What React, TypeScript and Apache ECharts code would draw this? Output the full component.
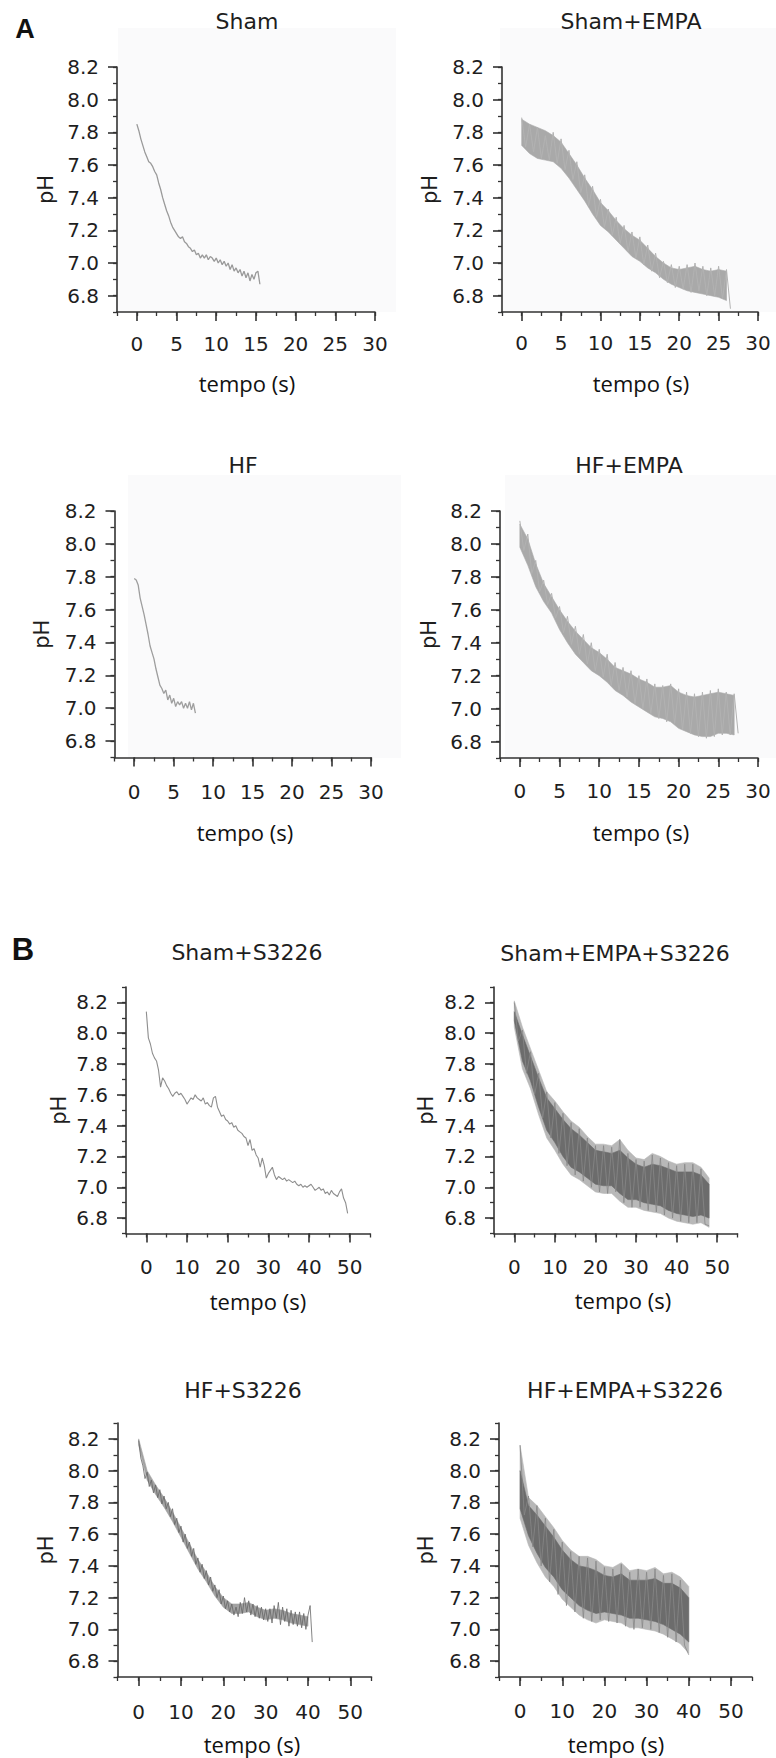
import { useEffect, useRef } from "react";
import * as echarts from "echarts";

// ---------------- texts ----------------
const panelTitles = ["Sham", "Sham+EMPA", "HF", "HF+EMPA", "Sham+S3226", "Sham+EMPA+S3226", "HF+S3226", "HF+EMPA+S3226"];
const sectionLabels = ["A", "B"];
const yAxisName = "pH";
const xAxisName = "tempo (s)";

// ---------------- axes ----------------
const yTickValues = [6.8, 7.0, 7.2, 7.4, 7.6, 7.8, 8.0, 8.2];
const xTickValuesA = [0, 5, 10, 15, 20, 25, 30];
const xTickValuesB = [0, 10, 20, 30, 40, 50];
const yRangeA = [6.7, 8.2];
const yRangeB = [6.7, 8.3];
const xRangeA = [-2.5, 30];
const xRangeB = [-5, 55];
const yMinorStep = 0.1;
const xMinorStepA = 2.5;
const xMinorStepB = 5;

// ---------------- traces (pH values sampled every `step` seconds from t = 0) ----------------
const shamStep = 0.25;
const shamPH = [
  7.85, 7.81, 7.76, 7.72, 7.68, 7.65, 7.62, 7.61, 7.59, 7.56, 7.54, 7.49, 7.45, 7.40, 7.36, 7.32,
  7.29, 7.25, 7.22, 7.20, 7.18, 7.16, 7.15, 7.16, 7.13, 7.12, 7.10, 7.09, 7.07, 7.08, 7.05, 7.06,
  7.03, 7.05, 7.03, 7.05, 7.02, 7.04, 7.03, 7.01, 7.03, 7.00, 7.02, 6.99, 7.01, 6.98, 7.00, 6.96,
  6.99, 6.95, 6.97, 6.94, 6.96, 6.92, 6.95, 6.91, 6.94, 6.89, 6.93, 6.90, 6.94, 6.95, 6.87,
];

const hfStep = 0.25;
const hfPH = [
  7.79, 7.78, 7.75, 7.67, 7.62, 7.57, 7.51, 7.45, 7.38, 7.34, 7.30, 7.24, 7.19, 7.14, 7.12, 7.09,
  7.11, 7.05, 7.08, 7.03, 7.06, 7.01, 7.04, 7.02, 7.04, 7.00, 7.03, 7.00, 7.04, 6.99, 7.03, 6.97,
];

const shamEmpaBandStep = 1;
const shamEmpaUpper = [
  7.88, 7.85, 7.83, 7.81, 7.78, 7.74, 7.67, 7.60, 7.52, 7.45, 7.37, 7.32, 7.26, 7.21,
  7.17, 7.14, 7.09, 7.04, 7.00, 6.97, 6.96, 6.97, 6.98, 6.96, 6.95, 6.96, 6.95,
];
const shamEmpaLower = [
  7.72, 7.67, 7.64, 7.63, 7.62, 7.58, 7.52, 7.45, 7.38, 7.30, 7.23, 7.19, 7.14, 7.09,
  7.04, 7.01, 6.97, 6.94, 6.90, 6.87, 6.85, 6.83, 6.82, 6.81, 6.80, 6.79, 6.77,
];
const shamEmpaStep = 0.5;
const shamEmpaPH = [
  7.89, 7.71, 7.85, 7.68, 7.83, 7.64, 7.78, 7.63, 7.80, 7.61,
  7.76, 7.57, 7.69, 7.51, 7.62, 7.43, 7.54, 7.35, 7.47, 7.28,
  7.39, 7.22, 7.33, 7.17, 7.28, 7.12, 7.23, 7.07, 7.19, 7.03,
  7.16, 6.99, 7.11, 6.95, 7.06, 6.91, 7.01, 6.88, 6.99, 6.85,
  6.98, 6.84, 6.99, 6.82, 7.00, 6.83, 6.98, 6.80, 6.97, 6.80,
  6.98, 6.78, 6.96, 6.72,
];

const hfEmpaBandStep = 1;
const hfEmpaUpper = [
  8.12, 8.03, 7.88, 7.76, 7.68, 7.60, 7.53, 7.47, 7.42, 7.37, 7.34, 7.30, 7.25, 7.23,
  7.21, 7.18, 7.16, 7.13, 7.13, 7.14, 7.10, 7.08, 7.07, 7.08, 7.09, 7.10, 7.09, 7.08,
];
const hfEmpaLower = [
  7.98, 7.87, 7.74, 7.65, 7.58, 7.48, 7.40, 7.33, 7.28, 7.23, 7.20, 7.16, 7.11, 7.08,
  7.04, 7.01, 6.98, 6.95, 6.94, 6.92, 6.88, 6.86, 6.84, 6.83, 6.83, 6.85, 6.85, 6.84,
];
const hfEmpaStep = 0.5;
const hfEmpaPH = [
  8.14, 7.96, 8.06, 7.82, 7.90, 7.71, 7.78, 7.63, 7.70, 7.55,
  7.62, 7.46, 7.56, 7.39, 7.50, 7.33, 7.45, 7.27, 7.40, 7.23,
  7.36, 7.19, 7.33, 7.14, 7.28, 7.11, 7.25, 7.07, 7.23, 7.03,
  7.20, 7.00, 7.18, 6.97, 7.15, 6.94, 7.14, 6.92, 7.15, 6.91,
  7.12, 6.87, 7.10, 6.85, 7.09, 6.83, 7.10, 6.82, 7.11, 6.83,
  7.12, 6.84, 7.10, 6.84, 7.09, 6.85,
];

const shamS3226Step = 0.5;
const shamS3226PH = [
  8.14, 7.97, 7.93, 7.87, 7.84, 7.82, 7.76, 7.65, 7.71, 7.69,
  7.66, 7.64, 7.61, 7.59, 7.61, 7.62, 7.60, 7.61, 7.59, 7.57,
  7.54, 7.56, 7.58, 7.57, 7.60, 7.58, 7.57, 7.56, 7.58, 7.54,
  7.55, 7.53, 7.52, 7.58, 7.59, 7.52, 7.49, 7.46, 7.47, 7.44,
  7.43, 7.41, 7.42, 7.39, 7.40, 7.37, 7.36, 7.35, 7.33, 7.32,
  7.27, 7.31, 7.24, 7.25, 7.21, 7.19, 7.13, 7.19, 7.14, 7.06,
  7.09, 7.11, 7.13, 7.08, 7.05, 7.07, 7.06, 7.05, 7.06, 7.04,
  7.05, 7.04, 7.03, 7.04, 7.02, 7.01, 7.02, 7.00, 7.01, 7.00,
  7.01, 7.02, 7.00, 6.98, 6.99, 7.00, 6.98, 6.99, 6.96, 6.97,
  6.95, 6.98, 6.96, 6.95, 6.94, 6.97, 6.99, 6.93, 6.90, 6.83,
];

const shamEmpaS3226BandStep = 2;
const shamEmpaS3226OuterUpper = [
  8.21, 8.04, 7.90, 7.76, 7.62, 7.56, 7.49, 7.43, 7.39, 7.33, 7.28, 7.28, 7.27,
  7.31, 7.24, 7.19, 7.18, 7.22, 7.20, 7.17, 7.15, 7.16, 7.16, 7.13, 7.06,
];
const shamEmpaS3226OuterLower = [
  8.04, 7.77, 7.64, 7.47, 7.32, 7.24, 7.15, 7.08, 7.05, 7.01, 6.97, 6.96, 6.96,
  6.91, 6.87, 6.87, 6.85, 6.84, 6.83, 6.80, 6.78, 6.77, 6.76, 6.77, 6.74,
];
const shamEmpaS3226InnerUpper = [
  8.14, 7.99, 7.85, 7.71, 7.58, 7.51, 7.44, 7.38, 7.34, 7.29, 7.24, 7.23, 7.22,
  7.24, 7.19, 7.15, 7.13, 7.15, 7.14, 7.12, 7.10, 7.10, 7.10, 7.08, 7.02,
];
const shamEmpaS3226InnerLower = [
  8.08, 7.82, 7.69, 7.52, 7.37, 7.29, 7.20, 7.13, 7.10, 7.06, 7.02, 7.01, 7.01,
  6.96, 6.92, 6.92, 6.90, 6.89, 6.88, 6.85, 6.83, 6.82, 6.81, 6.82, 6.80,
];
const shamEmpaS3226Step = 1;
const shamEmpaS3226PH = [
  8.20, 7.95, 8.02, 7.74, 7.88, 7.60, 7.74, 7.45, 7.62, 7.32,
  7.55, 7.22, 7.48, 7.14, 7.42, 7.08, 7.38, 7.04, 7.32, 7.00,
  7.27, 6.97, 7.27, 6.96, 7.26, 6.97, 7.31, 6.90, 7.22, 6.87,
  7.18, 6.87, 7.17, 6.85, 7.21, 6.84, 7.19, 6.82, 7.16, 6.80,
  7.14, 6.78, 7.15, 6.77, 7.15, 6.77, 7.12, 6.76, 6.75,
];

const hfS3226BandStep = 2;
const hfS3226Upper = [
  8.20, 8.00, 7.91, 7.83, 7.74, 7.64, 7.54, 7.44, 7.36, 7.27, 7.20,
  7.16, 7.16, 7.17, 7.14, 7.12, 7.13, 7.12, 7.10, 7.09, 7.08,
];
const hfS3226Lower = [
  8.16, 7.94, 7.85, 7.77, 7.68, 7.58, 7.48, 7.38, 7.30, 7.21, 7.14,
  7.10, 7.10, 7.11, 7.08, 7.06, 7.07, 7.06, 7.04, 7.03, 7.02,
];
const hfS3226Step = 0.5;
const hfS3226PH = [
  8.19, 8.08, 8.03, 7.95, 7.99, 7.90, 7.94, 7.86, 7.91, 7.83,
  7.88, 7.79, 7.84, 7.76, 7.80, 7.71, 7.76, 7.66, 7.70, 7.61,
  7.65, 7.55, 7.60, 7.51, 7.55, 7.46, 7.51, 7.41, 7.45, 7.36,
  7.41, 7.32, 7.37, 7.28, 7.33, 7.24, 7.28, 7.20, 7.25, 7.16,
  7.21, 7.13, 7.18, 7.11, 7.16, 7.09, 7.14, 7.08, 7.17, 7.10,
  7.20, 7.11, 7.18, 7.09, 7.16, 7.08, 7.15, 7.07, 7.14, 7.06,
  7.13, 7.05, 7.13, 7.04, 7.15, 7.07, 7.17, 7.03, 7.14, 7.05,
  7.13, 7.02, 7.12, 7.03, 7.11, 7.02, 7.11, 7.01, 7.10, 7.00,
  7.09, 7.15, 6.92,
];

const hfEmpaS3226BandStep = 2;
const hfEmpaS3226OuterUpper = [
  8.16, 7.83, 7.78, 7.71, 7.64, 7.56, 7.50, 7.46, 7.46, 7.44, 7.40,
  7.39, 7.42, 7.37, 7.38, 7.37, 7.39, 7.35, 7.36, 7.33, 7.27,
];
const hfEmpaS3226OuterLower = [
  7.70, 7.53, 7.42, 7.33, 7.27, 7.19, 7.14, 7.09, 7.06, 7.04, 7.06,
  7.05, 7.04, 7.01, 7.01, 7.00, 6.99, 6.97, 6.94, 6.91, 6.85,
];
const hfEmpaS3226InnerUpper = [
  8.00, 7.78, 7.72, 7.65, 7.58, 7.50, 7.44, 7.40, 7.39, 7.37, 7.34,
  7.33, 7.35, 7.31, 7.31, 7.31, 7.32, 7.29, 7.29, 7.26, 7.20,
];
const hfEmpaS3226InnerLower = [
  7.76, 7.59, 7.48, 7.39, 7.33, 7.25, 7.20, 7.15, 7.12, 7.10, 7.11,
  7.10, 7.09, 7.07, 7.07, 7.06, 7.05, 7.03, 7.00, 6.97, 6.92,
];
const hfEmpaS3226Step = 1;
const hfEmpaS3226PH = [
  8.16, 7.72, 7.84, 7.52, 7.78, 7.40, 7.70, 7.30, 7.63, 7.22,
  7.55, 7.15, 7.49, 7.11, 7.46, 7.07, 7.45, 7.05, 7.43, 7.06,
  7.39, 7.05, 7.38, 7.04, 7.41, 7.02, 7.36, 7.00, 7.38, 7.01,
  7.36, 7.00, 7.38, 6.98, 7.34, 6.95, 7.35, 6.92, 7.31, 6.90,
  6.84,
];

// ---------------- layout (pixels) ----------------
type Layout = {
  kind: "A" | "B";
  left: number; top: number; width: number; height: number;
  titleX: number; titleY: number; nameX: number; nameY: number;
  pHGap: number; xMargin: number;
};
const layouts: Layout[] = [
  { kind: "A", left: 117, top: 67, width: 258, height: 245, titleX: 247, titleY: 21, nameX: 247, nameY: 383, pHGap: 61, xMargin: 22 },
  { kind: "A", left: 502, top: 67, width: 256, height: 245, titleX: 631, titleY: 21, nameX: 641, nameY: 383, pHGap: 62, xMargin: 21 },
  { kind: "A", left: 114.5, top: 511, width: 256.5, height: 246.5, titleX: 243, titleY: 465, nameX: 245, nameY: 832, pHGap: 62, xMargin: 24 },
  { kind: "A", left: 500, top: 511, width: 258, height: 247, titleX: 629, titleY: 465, nameX: 641, nameY: 832, pHGap: 61, xMargin: 23 },
  { kind: "B", left: 126, top: 987, width: 244, height: 246.5, titleX: 247, titleY: 952, nameX: 258, nameY: 1301, pHGap: 57, xMargin: 23 },
  { kind: "B", left: 494, top: 987, width: 243.5, height: 246.5, titleX: 615, titleY: 953, nameX: 623, nameY: 1300, pHGap: 58, xMargin: 23 },
  { kind: "B", left: 117.5, top: 1423, width: 254, height: 254, titleX: 243, titleY: 1390, nameX: 252, nameY: 1744, pHGap: 61, xMargin: 25 },
  { kind: "B", left: 499, top: 1423, width: 253, height: 254, titleX: 625, titleY: 1390, nameX: 616, nameY: 1744, pHGap: 63, xMargin: 24 },
];
const sectionPos = [
  { x: 25, y: 29, size: 27 },
  { x: 23, y: 949, size: 31 },
];
const bgBoxes = [
  { x: 118, y: 28, w: 278, h: 284 },
  { x: 500, y: 28, w: 276, h: 284 },
  { x: 128, y: 475, w: 273, h: 283 },
  { x: 505, y: 475, w: 271, h: 283 },
];

const AXIS = "#333333";
const TEXT = "#1e1e1e";
const LABEL_FONT = "'DejaVu Sans', 'Liberation Sans', Arial, sans-serif";
const BOLD_FONT = "'Liberation Sans', Arial, sans-serif";
const NAME_FONT = "'Open Sans', 'Noto Sans', sans-serif";

const tOf = (i: number, step: number) => Math.round(i * step * 1000) / 1000;
const toPairs = (vals: number[], step: number) => vals.map((v, i) => [tOf(i, step), v]);

function trace(p: number, vals: number[], step: number, color: string, width: number, z: number) {
  return {
    type: "line", xAxisIndex: p * 2, yAxisIndex: p * 2, data: toPairs(vals, step),
    symbol: "none", showSymbol: false, silent: true, z,
    lineStyle: { color, width },
  };
}

// filled band between a lower and an upper envelope, drawn through the axes' scales
function band(p: number, lower: number[], upper: number[], step: number, color: string, z: number) {
  const data = lower.map((lo, i) => [tOf(i, step), lo, upper[i]]);
  return {
    type: "custom", xAxisIndex: p * 2, yAxisIndex: p * 2, silent: true, z, clip: true,
    data,
    encode: { x: 0, y: [1, 2] },
    renderItem: (params: any, api: any) => {
      if (params.dataIndex !== 0) return null;
      const top = data.map((d) => api.coord([d[0], d[2]]));
      const bottom = data.map((d) => api.coord([d[0], d[1]])).reverse();
      return {
        type: "polygon",
        shape: { points: top.concat(bottom) },
        style: { fill: color, stroke: color, lineWidth: 0.6 },
        silent: true,
      };
    },
  };
}

function buildOption() {
  const grid = layouts.map((L) => ({
    left: L.left, top: L.top, width: L.width, height: L.height,
    containLabel: false, outerBoundsMode: "none", show: false,
  }));

  const xAxis: any[] = [];
  const yAxis: any[] = [];
  layouts.forEach((L, i) => {
    const isA = L.kind === "A";
    const xr = isA ? xRangeA : xRangeB;
    const xt = isA ? xTickValuesA : xTickValuesB;
    const yr = isA ? yRangeA : yRangeB;
    xAxis.push({
      type: "value", gridIndex: i, min: xr[0], max: xr[1], position: "bottom",
      axisLine: { show: true, onZero: false, lineStyle: { color: AXIS, width: 1.6 } },
      axisTick: { show: true, customValues: xt, length: 9, lineStyle: { color: AXIS, width: 1.6 } },
      axisLabel: { show: true, customValues: xt, margin: L.xMargin, color: TEXT, fontSize: 20, fontFamily: LABEL_FONT },
      splitLine: { show: false },
    });
    xAxis.push({
      type: "value", gridIndex: i, min: xr[0], max: xr[1], position: "bottom",
      interval: isA ? xMinorStepA : xMinorStepB,
      axisLine: { show: false, onZero: false },
      axisTick: { show: true, length: 4, lineStyle: { color: AXIS, width: 1.3 } },
      axisLabel: { show: false }, splitLine: { show: false },
    });
    yAxis.push({
      type: "value", gridIndex: i, min: yr[0], max: yr[1], position: "left",
      name: yAxisName, nameLocation: "middle", nameGap: L.pHGap, nameRotate: 90,
      nameTextStyle: { fontSize: 21, color: TEXT, fontFamily: LABEL_FONT },
      axisLine: { show: true, onZero: false, lineStyle: { color: AXIS, width: 1.6 } },
      axisTick: { show: true, customValues: yTickValues, length: 9, lineStyle: { color: AXIS, width: 1.6 } },
      axisLabel: {
        show: true, customValues: yTickValues, margin: 18, color: TEXT, fontSize: 20, fontFamily: LABEL_FONT,
        formatter: (v: number) => v.toFixed(1),
      },
      splitLine: { show: false },
    });
    yAxis.push({
      type: "value", gridIndex: i, min: yr[0], max: yr[1], position: "left", interval: yMinorStep,
      axisLine: { show: false, onZero: false },
      axisTick: { show: true, length: 4, lineStyle: { color: AXIS, width: 1.3 } },
      axisLabel: { show: false }, splitLine: { show: false },
    });
  });

  const series: any[] = [
    trace(0, shamPH, shamStep, "#9a9a9a", 1.3, 3),
    band(1, shamEmpaLower, shamEmpaUpper, shamEmpaBandStep, "#a9a9a9", 2),
    trace(1, shamEmpaPH, shamEmpaStep, "#b2b2b2", 1, 3),
    trace(2, hfPH, hfStep, "#9e9e9e", 1.3, 3),
    band(3, hfEmpaLower, hfEmpaUpper, hfEmpaBandStep, "#a9a9a9", 2),
    trace(3, hfEmpaPH, hfEmpaStep, "#b2b2b2", 1, 3),
    trace(4, shamS3226PH, shamS3226Step, "#8e8e8e", 1.1, 3),
    band(5, shamEmpaS3226OuterLower, shamEmpaS3226OuterUpper, shamEmpaS3226BandStep, "#b8b8b8", 2),
    band(5, shamEmpaS3226InnerLower, shamEmpaS3226InnerUpper, shamEmpaS3226BandStep, "#6c6c6c", 3),
    trace(5, shamEmpaS3226PH, shamEmpaS3226Step, "#888888", 0.8, 4),
    band(6, hfS3226Lower, hfS3226Upper, hfS3226BandStep, "#a2a2a2", 2),
    trace(6, hfS3226PH, hfS3226Step, "#666666", 0.8, 3),
    band(7, hfEmpaS3226OuterLower, hfEmpaS3226OuterUpper, hfEmpaS3226BandStep, "#b8b8b8", 2),
    band(7, hfEmpaS3226InnerLower, hfEmpaS3226InnerUpper, hfEmpaS3226BandStep, "#6c6c6c", 3),
    trace(7, hfEmpaS3226PH, hfEmpaS3226Step, "#888888", 0.8, 4),
  ];

  const graphic: any[] = [];
  bgBoxes.forEach((b) =>
    graphic.push({ type: "rect", z: -10, silent: true, shape: { x: b.x, y: b.y, width: b.w, height: b.h }, style: { fill: "#fafafb" } })
  );
  sectionLabels.forEach((s, i) =>
    graphic.push({
      type: "text", x: sectionPos[i].x, y: sectionPos[i].y, silent: true,
      style: { text: s, fill: "#111", fontSize: sectionPos[i].size, fontWeight: "bold", fontFamily: BOLD_FONT, align: "center", verticalAlign: "middle", textAlign: "center", textVerticalAlign: "middle" },
    })
  );
  layouts.forEach((L, i) => {
    graphic.push({
      type: "text", x: L.titleX, y: L.titleY, silent: true,
      style: { text: panelTitles[i], fill: TEXT, fontSize: 22, fontFamily: LABEL_FONT, align: "center", verticalAlign: "middle", textAlign: "center", textVerticalAlign: "middle" },
    });
    graphic.push({
      type: "text", x: L.nameX, y: L.nameY, silent: true,
      style: { text: xAxisName, fill: "#111", fontSize: 22, fontFamily: NAME_FONT, align: "center", verticalAlign: "middle", textAlign: "center", textVerticalAlign: "middle" },
    });
  });

  return { animation: false, backgroundColor: "#ffffff", grid, xAxis, yAxis, series, graphic };
}

export default function App() {
  const ref = useRef<HTMLDivElement>(null);
  useEffect(() => {
    document.body.style.margin = "0";
    const chart = echarts.init(ref.current!, null, { renderer: "svg" });
    chart.setOption(buildOption() as any);
    return () => chart.dispose();
  }, []);
  return <div ref={ref} style={{ width: 776, height: 1758 }} />;
}
